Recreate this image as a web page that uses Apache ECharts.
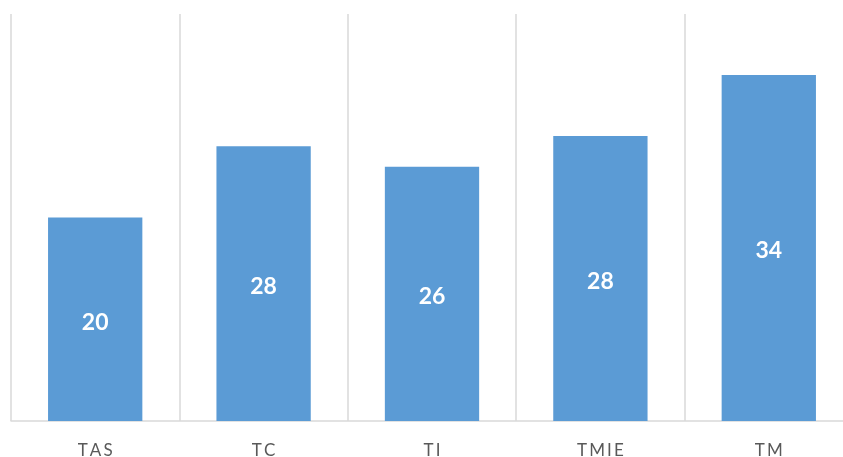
<!DOCTYPE html>
<html>
<head>
<meta charset="utf-8">
<script src="https://cdn.jsdelivr.net/npm/echarts@6/dist/echarts.min.js"></script>
<style>html,body{margin:0;padding:0;background:#fff;}#c{width:843px;height:457px;}</style>
</head>
<body>
<div id="c"></div>
<script>
const categories = ['TAS', 'TC', 'TI', 'TMIE', 'TM'];
const values = [20, 27, 25, 28, 34];
const labelTexts = ['20', '28', '26', '28', '34'];

const chart = echarts.init(document.getElementById('c'), null, {renderer: 'canvas'});
chart.setOption({
  animation: false,
  backgroundColor: '#ffffff',
  grid: {left: 11, right: -10, top: 14, bottom: 36, outerBoundsMode: 'none'},
  xAxis: {
    type: 'category',
    data: categories,
    boundaryGap: true,
    axisLine: {show: true, lineStyle: {color: '#d9d9d9', width: 1.5}},
    axisTick: {show: false},
    splitLine: {show: true, lineStyle: {color: '#d9d9d9', width: 1.5}},
    axisLabel: {
      color: '#595959', fontFamily: 'Lato', fontSize: 17, margin: 21,
      formatter: v => v.split('').join('\u2009')
    }
  },
  yAxis: {
    type: 'value', min: 0, max: 40,
    show: false,
    splitLine: {show: false}
  },
  series: [{
    type: 'bar',
    data: values,
    barWidth: '56%',
    itemStyle: {color: '#5b9bd5'},
    label: {
      show: true,
      position: 'inside',
      offset: [0, 3],
      color: '#ffffff',
      fontWeight: 'bold',
      fontFamily: 'Lato',
      fontSize: 23,
      formatter: p => labelTexts[p.dataIndex]
    }
  }]
});
</script>
</body>
</html>
